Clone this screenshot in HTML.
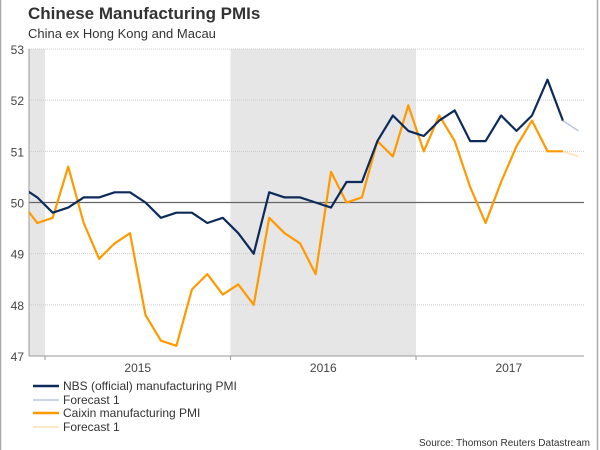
<!DOCTYPE html>
<html><head><meta charset="utf-8"><style>
body{margin:0;background:#fff;font-family:"Liberation Sans",sans-serif}
#wrap{position:relative;width:600px;height:450px;overflow:hidden}
</style></head><body>
<div id="wrap">
<svg id="chart" width="600" height="450" xmlns="http://www.w3.org/2000/svg">
<rect x="0.5" y="-1" width="597" height="452" fill="none" stroke="#aaa" stroke-width="1.5"/>
<text x="28" y="19" font-size="17" font-weight="bold" fill="#333">Chinese Manufacturing PMIs</text>
<text x="28" y="38" font-size="13" fill="#333">China ex Hong Kong and Macau</text>
<g id="plot"></g>
<g>
<g><line x1="33" y1="386" x2="59" y2="386" stroke="#0d2b5a" stroke-width="2.5"/><text x="63" y="390" font-size="12" fill="#333">NBS (official) manufacturing PMI</text></g>
<g><line x1="33" y1="400" x2="59" y2="400" stroke="#b8c8d8" stroke-width="1.5"/><text x="63" y="404" font-size="12" fill="#333">Forecast 1</text></g>
<g><line x1="33" y1="413" x2="59" y2="413" stroke="#ff9900" stroke-width="2.5"/><text x="63" y="417" font-size="12" fill="#333">Caixin manufacturing PMI</text></g>
<g><line x1="33" y1="427" x2="59" y2="427" stroke="#ffe0b0" stroke-width="1.5"/><text x="63" y="431" font-size="12" fill="#333">Forecast 1</text></g>
</g>
<text x="590" y="446" font-size="10" fill="#333" text-anchor="end">Source: Thomson Reuters Datastream</text>
</svg>
</div>
<script>
const yTicks = [47,48,49,50,51,52,53];
const xYearLabels = ["2015","2016","2017"];
const nbs = [50.3,50.1,49.8,49.9,50.1,50.1,50.2,50.2,50.0,49.7,49.8,49.8,49.6,49.7,49.4,49.0,50.2,50.1,50.1,50.0,49.9,50.4,50.4,51.2,51.7,51.4,51.3,51.6,51.8,51.2,51.2,51.7,51.4,51.7,52.4,51.6];
const nbsForecast = [51.6,51.4];
const caixin = [50.0,49.6,49.7,50.7,49.6,48.9,49.2,49.4,47.8,47.3,47.2,48.3,48.6,48.2,48.4,48.0,49.7,49.4,49.2,48.6,50.6,50.0,50.1,51.2,50.9,51.9,51.0,51.7,51.2,50.3,49.6,50.4,51.1,51.6,51.0,51.0];
const caixinForecast = [51.0,50.9];

const NS="http://www.w3.org/2000/svg";
const L=29,R=584,T=49,B=356;
const mw=15.46, jan15=45;
const xOf=i=>jan15+mw*(i-2)+mw/2;
const yOf=v=>B-(v-47)/(53-47)*(B-T);
const plot=document.getElementById('plot');
function el(tag,attrs,parent){const e=document.createElementNS(NS,tag);for(const k in attrs)e.setAttribute(k,attrs[k]);(parent||plot).appendChild(e);return e;}
const defs=el('defs',{});
const cp=el('clipPath',{id:'clip'},defs);el('rect',{x:L,y:T-5,width:R-L,height:B-T+10},cp);
const s1=el('rect',{x:L,y:T,width:jan15-L,height:B-T,fill:'#e6e6e6'});


const s2=el('rect',{x:jan15+12*mw,y:T,width:12*mw,height:B-T,fill:'#e6e6e6'});


yTicks.forEach(v=>{
  const y=yOf(v);
  if(v!==47&&v!==50){const g=el('line',{x1:L,x2:R,y1:y,y2:y,stroke:'#ccc','stroke-dasharray':'1,1'});
  
  }
  const t=el('text',{x:L-5,y:y+5,'font-size':12,fill:'#444','text-anchor':'end'});t.textContent=v;
  
  
});
const ref=el('line',{x1:L,x2:R,y1:yOf(50),y2:yOf(50),stroke:'#666','stroke-width':1.2});


el('line',{x1:L,x2:L,y1:T,y2:B,stroke:'#999'});
el('line',{x1:L,x2:R,y1:B,y2:B,stroke:'#999'});
[0,1,2].forEach(k=>{const x=jan15+12*mw*k;el('line',{x1:x,x2:x,y1:B,y2:B+4,stroke:'#999'});});
xYearLabels.forEach((lab,k)=>{const t=el('text',{x:jan15+12*mw*k+6*mw,y:B+16,'font-size':12,fill:'#444','text-anchor':'middle'});t.textContent=lab;

});
function line(data,offset,color,w,name){
  const pts=data.map((v,i)=>xOf(i+offset).toFixed(1)+','+yOf(v).toFixed(1)).join(' ');
  const p=el('polyline',{points:pts,fill:'none',stroke:color,'stroke-width':w,'clip-path':'url(#clip)','stroke-linejoin':'round'});
  
  
}
line(nbsForecast,nbs.length-1,'#b8c8d8',1.5,'nbs-forecast-line');
line(caixinForecast,caixin.length-1,'#ffe0b0',1.5,'caixin-forecast-line');
line(caixin,0,'#ff9900',2.2,'caixin-line');
line(nbs,0,'#0d2b5a',2.2,'nbs-line');
</script>
</body></html>
